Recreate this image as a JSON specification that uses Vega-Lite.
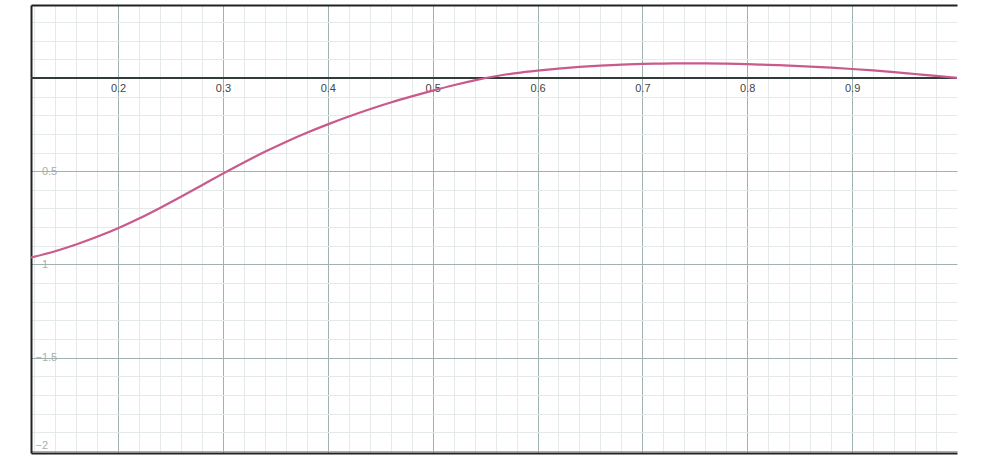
{
  "$schema": "https://vega.github.io/schema/vega-lite/v6.json",
  "width": 926,
  "height": 448,
  "autosize": {"type": "none"},
  "padding": {"left": 31, "top": 5, "right": 25, "bottom": 10},
  "background": "white",
  "config": {"view": {"stroke": null}, "axis": {"labelFont": "Liberation Sans", "labelFontSize": 11, "title": null}},
  "data": {"values": [
    {"x": 0.117, "y": -0.963}, {"x": 0.14, "y": -0.929}, {"x": 0.16, "y": -0.893}, {"x": 0.18, "y": -0.852},
    {"x": 0.2, "y": -0.806}, {"x": 0.22, "y": -0.754}, {"x": 0.24, "y": -0.697}, {"x": 0.26, "y": -0.637},
    {"x": 0.28, "y": -0.575}, {"x": 0.3, "y": -0.513}, {"x": 0.32, "y": -0.453}, {"x": 0.34, "y": -0.396},
    {"x": 0.36, "y": -0.343}, {"x": 0.38, "y": -0.294}, {"x": 0.4, "y": -0.249}, {"x": 0.42, "y": -0.207},
    {"x": 0.44, "y": -0.168}, {"x": 0.46, "y": -0.132}, {"x": 0.48, "y": -0.099}, {"x": 0.5, "y": -0.068},
    {"x": 0.52, "y": -0.039}, {"x": 0.54, "y": -0.013}, {"x": 0.56, "y": 0.009}, {"x": 0.58, "y": 0.026},
    {"x": 0.6, "y": 0.039}, {"x": 0.62, "y": 0.05}, {"x": 0.64, "y": 0.059}, {"x": 0.66, "y": 0.066},
    {"x": 0.68, "y": 0.071}, {"x": 0.7, "y": 0.075}, {"x": 0.72, "y": 0.077}, {"x": 0.74, "y": 0.078},
    {"x": 0.76, "y": 0.078}, {"x": 0.78, "y": 0.0765}, {"x": 0.8, "y": 0.074}, {"x": 0.82, "y": 0.07},
    {"x": 0.84, "y": 0.066}, {"x": 0.86, "y": 0.061}, {"x": 0.88, "y": 0.055}, {"x": 0.9, "y": 0.048},
    {"x": 0.92, "y": 0.04}, {"x": 0.94, "y": 0.031}, {"x": 0.96, "y": 0.021}, {"x": 0.98, "y": 0.011},
    {"x": 1.0, "y": 0.0}
  ]},
  "resolve": {"axis": {"x": "independent", "y": "independent"}},
  "layer": [
    {
      "mark": {"type": "line", "opacity": 0},
      "encoding": {
        "x": {"field": "x", "type": "quantitative",
          "scale": {"domain": [0.117, 1.0], "nice": false, "zero": false},
          "axis": {"orient": "top", "grid": true, "gridColor": "#e4eaea", "gridWidth": 1, "labels": false, "ticks": false,
            "domain": true, "domainColor": "#222222", "domainWidth": 2,
            "values": [0.12,0.14,0.16,0.18,0.22,0.24,0.26,0.28,0.32,0.34,0.36,0.38,0.42,0.44,0.46,0.48,0.52,0.54,0.56,0.58,0.62,0.64,0.66,0.68,0.72,0.74,0.76,0.78,0.82,0.84,0.86,0.88,0.92,0.94,0.96,0.98]}},
        "y": {"field": "y", "type": "quantitative",
          "scale": {"domain": [-2.011, 0.391], "nice": false, "zero": false},
          "axis": {"orient": "right", "grid": true, "gridColor": "#e4eaea", "gridWidth": 1, "labels": false, "ticks": false, "domain": false,
            "values": [0.3,0.2,0.1,-0.1,-0.2,-0.3,-0.4,-0.6,-0.7,-0.8,-0.9,-1.1,-1.2,-1.3,-1.4,-1.6,-1.7,-1.8,-1.9]}}
      }
    },
    {
      "mark": {"type": "line", "opacity": 0},
      "encoding": {
        "x": {"field": "x", "type": "quantitative",
          "axis": {"orient": "bottom", "grid": false, "labels": false, "ticks": false,
            "domain": true, "domainColor": "#222222", "domainWidth": 2}},
        "y": {"field": "y", "type": "quantitative", "axis": null}
      }
    },
    {
      "mark": {"type": "rule", "color": "#333b3b", "strokeWidth": 1.5},
      "encoding": {"y": {"datum": 0, "type": "quantitative", "axis": null}}
    },
    {
      "mark": {"type": "line", "color": "#c95a8c", "strokeWidth": 2.2, "interpolate": "monotone"},
      "encoding": {
        "x": {"field": "x", "type": "quantitative",
          "axis": {"orient": "bottom", "offset": -375, "grid": true, "gridColor": "#9fb1b1", "gridWidth": 1,
            "ticks": false, "domain": false, "labelColor": "#444444", "labelPadding": 4, "labelBaseline": "top",
            "values": [0.2,0.3,0.4,0.5,0.6,0.7,0.8,0.9]}},
        "y": {"field": "y", "type": "quantitative",
          "axis": {"orient": "left", "grid": true, "gridColor": "#9fb1b1", "gridWidth": 1, "ticks": false,
            "domain": true, "domainColor": "#222222", "domainWidth": 2, "format": "~g",
            "labelColor": "#a5b0b0", "labelAlign": "left", "labelPadding": -4, "labelFlush": 5,
            "values": [-0.5,-1,-1.5,-2]}}
      }
    }
  ]
}
